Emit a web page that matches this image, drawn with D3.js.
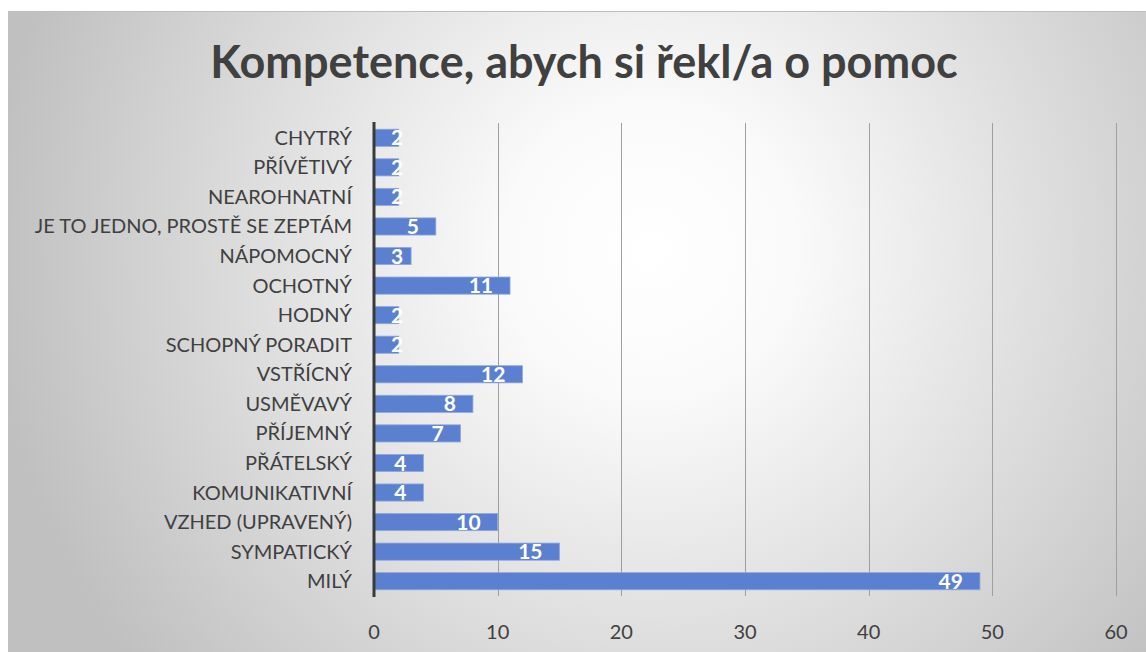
<!DOCTYPE html>
<html>
<head>
<meta charset="utf-8">
<script src="https://cdn.jsdelivr.net/npm/d3@7"></script>
<style>
  body { margin: 0; background: #fff; }
  svg { display: block; }
</style>
</head>
<body>
<div id="chart"></div>
<script>
// data, top to bottom as in the chart
var categories = ["CHYTRÝ", "PŘÍVĚTIVÝ", "NEAROHNATNÍ", "JE TO JEDNO, PROSTĚ SE ZEPTÁM",
    "NÁPOMOCNÝ", "OCHOTNÝ", "HODNÝ", "SCHOPNÝ PORADIT", "VSTŘÍCNÝ", "USMĚVAVÝ",
    "PŘÍJEMNÝ", "PŘÁTELSKÝ", "KOMUNIKATIVNÍ", "VZHED (UPRAVENÝ)", "SYMPATICKÝ", "MILÝ"];
var values = [2, 2, 2, 5, 3, 11, 2, 2, 12, 8, 7, 4, 4, 10, 15, 49];
var xTicks = [0, 10, 20, 30, 40, 50, 60];
var title = "Kompetence, abych si řekl/a o pomoc";

var W = 1146, H = 652;
var frame = {x: 8, y: 11};
var plot = {left: 374, right: 1116, top: 123, bottom: 596};
var font = "Lato, 'Open Sans', sans-serif";

var svg = d3.select("#chart").append("svg")
    .attr("width", W)
    .attr("height", H);

var defs = svg.append("defs");
var grad = defs.append("radialGradient")
    .attr("id", "bg")
    .attr("gradientUnits", "userSpaceOnUse")
    .attr("cx", 650).attr("cy", 250).attr("r", 660);
grad.append("stop").attr("offset", "0%").attr("stop-color", "#ffffff");
grad.append("stop").attr("offset", "22%").attr("stop-color", "#fafafa");
grad.append("stop").attr("offset", "100%").attr("stop-color", "#c0c0c0");

svg.append("rect")
    .attr("x", frame.x).attr("y", frame.y)
    .attr("width", W - frame.x).attr("height", H - frame.y)
    .attr("fill", "url(#bg)");
svg.append("line")
    .attr("x1", frame.x).attr("x2", W)
    .attr("y1", frame.y + 0.5).attr("y2", frame.y + 0.5)
    .attr("stroke", "#bdbdbd");

// title
svg.append("text")
    .attr("x", 584).attr("y", 78)
    .attr("text-anchor", "middle")
    .attr("font-family", font)
    .attr("font-weight", "bold")
    .attr("font-size", 45)
    .attr("fill", "#404040")
    .text(title);

var x = d3.scaleLinear().domain([0, 60]).range([plot.left, plot.right]);
var y = d3.scaleBand().domain(categories).range([plot.top, plot.bottom]).paddingInner(0.42).paddingOuter(0.21);

// gridlines
svg.append("g")
    .selectAll("line")
    .data(xTicks.slice(1))
    .join("line")
    .attr("x1", function(d) { return Math.round(x(d)) + 0.5; })
    .attr("x2", function(d) { return Math.round(x(d)) + 0.5; })
    .attr("y1", plot.top).attr("y2", plot.bottom)
    .attr("stroke", "#9f9f9f")
    .attr("stroke-width", 1);

// x tick labels
svg.append("g")
    .selectAll("text")
    .data(xTicks)
    .join("text")
    .attr("x", function(d) { return x(d); })
    .attr("y", 639)
    .attr("text-anchor", "middle")
    .attr("font-family", font)
    .attr("font-size", 20)
    .attr("fill", "#404040")
    .text(function(d) { return d; });

// bars
svg.append("g")
    .selectAll("rect")
    .data(values)
    .join("rect")
    .attr("x", x(0))
    .attr("y", function(d, i) { return y(categories[i]); })
    .attr("width", function(d) { return x(d) - x(0); })
    .attr("height", y.bandwidth())
    .attr("fill", "#5b80d0")
    .attr("stroke", "#8fa8e0")
    .attr("stroke-width", 0.8);

// category labels
svg.append("g")
    .selectAll("text")
    .data(categories)
    .join("text")
    .attr("x", 352)
    .attr("y", function(d) { return y(d) + y.bandwidth() / 2; })
    .attr("dy", "0.35em")
    .attr("text-anchor", "end")
    .attr("font-family", font)
    .attr("font-size", 20)
    .attr("fill", "#404040")
    .text(function(d) { return d; });

// data labels, inside end; pushed right when they do not fit
var lab = svg.append("g")
    .selectAll("text")
    .data(values)
    .join("text")
    .attr("y", function(d, i) { return y(categories[i]) + y.bandwidth() / 2; })
    .attr("dy", "0.36em")
    .attr("text-anchor", "end")
    .attr("font-family", font)
    .attr("font-weight", "bold")
    .attr("font-size", 21)
    .attr("fill", "#ffffff")
    .text(function(d) { return d; });
lab.attr("x", function(d) {
    var w = this.getComputedTextLength();
    return Math.max(x(d) - 17, x(0) + 17 + w);
});

// value axis line (vertical category axis)
svg.append("line")
    .attr("x1", x(0)).attr("x2", x(0))
    .attr("y1", plot.top - 1).attr("y2", plot.bottom + 1)
    .attr("stroke", "#3a3a3a")
    .attr("stroke-width", 3);
</script>
</body>
</html>
